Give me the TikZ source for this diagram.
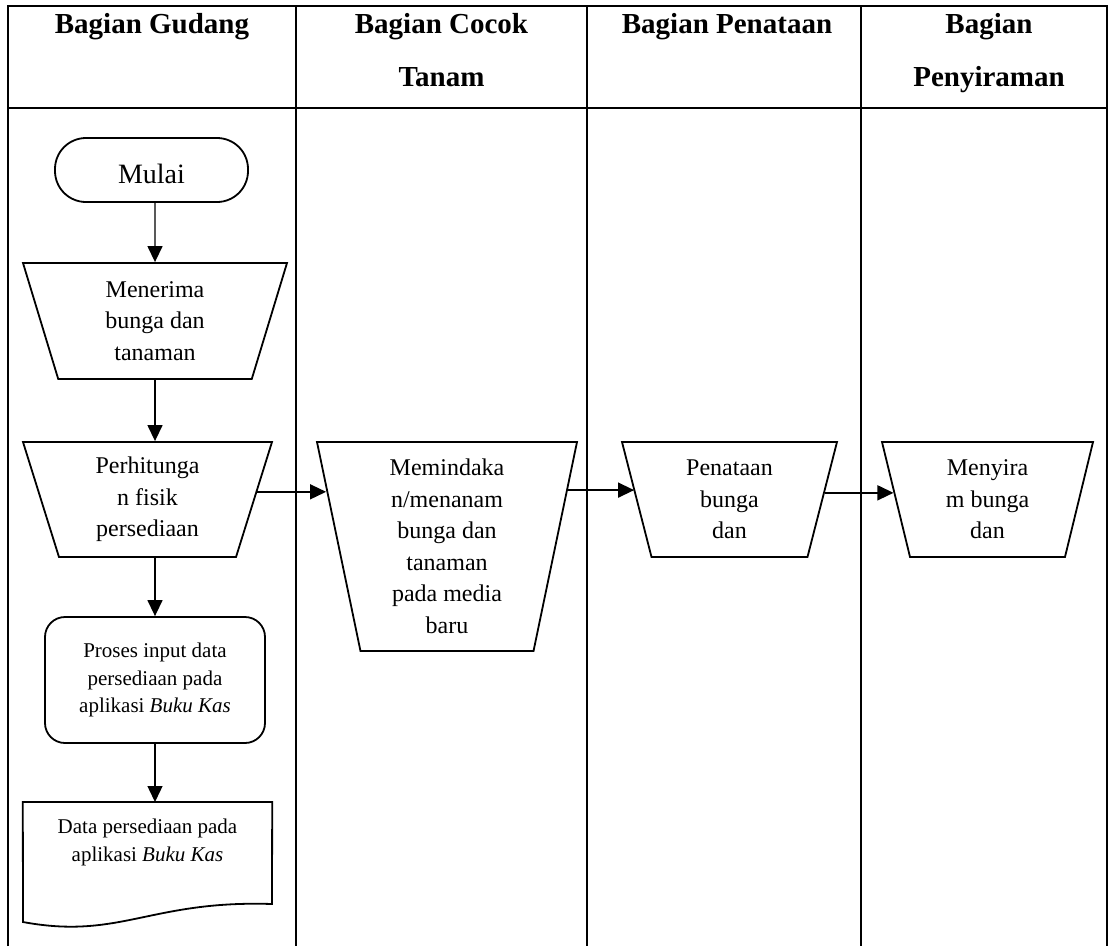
\documentclass[tikz,border=0pt]{standalone}
\usepackage{fontspec}
\setmainfont{Liberation Serif}
\usetikzlibrary{shapes.geometric,arrows.meta}

\tikzset{
  lane/.style={line width=2.2pt},
  head/.style={anchor=north, inner sep=0pt, align=center, font=\bfseries\fontsize{29}{53}\selectfont},
  trap/.style={draw, line width=1.8pt, trapezium, shape border rotate=180, trapezium stretches body,
    inner sep=0pt, align=center, font=\fontsize{24}{31.5}\selectfont},
  proc/.style={draw, line width=1.8pt, rectangle, rounded corners=20pt, inner sep=0pt,
    align=center, font=\fontsize{21}{27.5}\selectfont},
  arr/.style={line width=1.4pt, -{Triangle[length=16pt,width=15pt]}}
}

\begin{document}
\begin{tikzpicture}[x=1pt,y=-1pt]
\useasboundingbox (0,0) rectangle (1111,946);
% lanes
\draw[lane] (8,946) -- (8,6) -- (1107,6) -- (1107,946);
\draw[lane] (8,108) -- (1107,108);
\foreach \x in {296,587,861}
  \draw[lane] (\x,6) -- (\x,946);
\node[head] (hgud) at (152,13) {Bagian Gudang};
\node[head] (hcoc) at (441.5,13) {Bagian Cocok\\Tanam};
\node[head] (hpen) at (727,13) {Bagian Penataan};
\node[head] (hsir) at (989,13) {Bagian\\Penyiraman};

% bagian gudang
\node[draw, line width=1.8pt, rounded corners=31pt, minimum width=193pt, minimum height=64pt,
  inner sep=0pt, text height=26pt, text depth=0pt, font=\fontsize{28}{34}\selectfont]
  (mulai) at (151.5,170) {Mulai};
\node[trap, trapezium left angle=66, trapezium right angle=66, minimum width=264pt,
  minimum height=116pt] (menr) at (155,321) {Menerima\\bunga dan\\tanaman};
\node[trap, trapezium left angle=67, trapezium right angle=67, minimum width=249pt,
  minimum height=115pt] (perh) at (147.5,499.5) {Perhitunga\\n fisik\\persediaan};
\node[proc, minimum width=220pt, minimum height=126pt] (pros) at (155,680)
  {Proses input data\\persediaan pada\\aplikasi \textit{Buku Kas}};
\node[anchor=north, minimum width=249pt, inner xsep=0pt, inner ysep=17pt, align=center,
  font=\fontsize{21}{27.5}\selectfont] (data) at (147.5,802)
  {Data persediaan pada\\aplikasi \textit{Buku Kas}};
\draw[line width=1.8pt] (data.north west) -- (data.north east) -- (272,904)
  .. controls (150,900) and (120,940) .. (23,922) -- cycle;

% other lanes
\node[trap, trapezium left angle=76, trapezium right angle=76, minimum width=260pt,
  minimum height=209pt] (pind) at (447,546.5)
  {Memindaka\\n/menanam\\bunga dan\\tanaman\\pada media\\baru};
\node[trap, trapezium left angle=69.5, trapezium right angle=69.5, minimum width=215pt,
  minimum height=115pt] (pena) at (729.5,499.5) {Penataan\\bunga\\dan};
\node[trap, trapezium left angle=70.5, trapezium right angle=70.5, minimum width=211pt,
  minimum height=115pt] (siram) at (987.5,499.5) {Menyira\\m bunga\\dan};

% arrows
\draw[arr] (mulai.south -| menr) -- (menr.north);
\draw[arr] (menr.south) -- (menr.south |- perh.north);
\draw[arr] (perh.south -| menr) -- (pros.north);
\draw[arr] (pros.south) -- (pros.south |- data.north);
\draw[arr] (perh.4) -- (perh.4 -| pind.155);
\draw[arr] (pind.25) -- (pind.25 -| pena.176);
\draw[arr] (pena.4) -- (pena.4 -| siram.176);
\end{tikzpicture}
\end{document}
